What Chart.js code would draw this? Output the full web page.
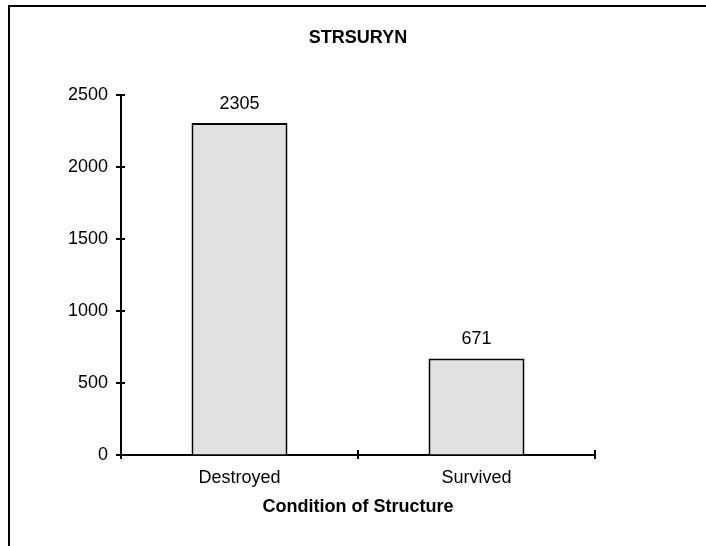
<!DOCTYPE html>
<html>
<head>
<meta charset="utf-8">
<script src="https://cdn.jsdelivr.net/npm/chart.js@4/dist/chart.umd.min.js"></script>
<style>
  body { margin: 0; background: #fff; }
  #frame {
    position: absolute; left: 8px; top: 5px; width: 800px; height: 700px;
    border-left: 2px solid #000; border-top: 2px solid #000;
  }
  #wrap { position: absolute; left: 0; top: 0; width: 706px; height: 546px; }
</style>
</head>
<body>
<div id="frame"></div>
<div id="wrap"><canvas id="chart" width="706" height="546"></canvas></div>
<script>
// chart data
const categories = ["Destroyed", "Survived"];
const counts = [2305, 671];
const yTicks = [0, 500, 1000, 1500, 2000, 2500];
const chartTitle = "STRSURYN";
const xTitle = "Condition of Structure";

const FONT = "'Liberation Sans', Arial, sans-serif";

// title centred over the plot area
const plotTitle = {
  id: "plotTitle",
  afterDraw(chart) {
    const ctx = chart.ctx;
    const area = chart.chartArea;
    ctx.save();
    ctx.font = "bold 18px " + FONT;
    ctx.fillStyle = "#000";
    ctx.textAlign = "center";
    ctx.textBaseline = "middle";
    ctx.fillText(chartTitle, (area.left + area.right) / 2, area.top - 57);
    ctx.restore();
  }
};

// small tick marks that cross the axis lines
const crossTicks = {
  id: "crossTicks",
  afterDraw(chart) {
    const ctx = chart.ctx;
    const x = chart.scales.x;
    const y = chart.scales.y;
    ctx.save();
    ctx.strokeStyle = "#000";
    ctx.lineWidth = 2;
    ctx.beginPath();
    yTicks.forEach(function (v) {
      let py = y.getPixelForValue(v);
      ctx.moveTo(x.left - 5, py);
      ctx.lineTo(x.left + 4, py);
    });
    for (let i = 0; i <= categories.length; i++) {
      let px = x.getPixelForValue(i - 0.5);
      ctx.moveTo(px, y.bottom - 5);
      ctx.lineTo(px, y.bottom + 4);
    }
    ctx.stroke();
    ctx.restore();
  }
};

// value labels above each bar
const barValues = {
  id: "barValues",
  afterDatasetsDraw(chart) {
    const ctx = chart.ctx;
    const meta = chart.getDatasetMeta(0);
    ctx.save();
    ctx.font = "18px " + FONT;
    ctx.fillStyle = "#000";
    ctx.textAlign = "center";
    ctx.textBaseline = "middle";
    meta.data.forEach(function (bar, i) {
      ctx.fillText(String(counts[i]), bar.x, bar.y - 19);
    });
    ctx.restore();
  }
};

new Chart(document.getElementById("chart"), {
  type: "bar",
  data: {
    labels: categories,
    datasets: [{
      data: counts,
      backgroundColor: "#e1e1e1",
      borderColor: "#000",
      borderWidth: 2,
      barPercentage: 0.405,
      categoryPercentage: 1
    }]
  },
  options: {
    responsive: false,
    animation: false,
    layout: { padding: { left: 0, right: 111, top: 95, bottom: 0 } },
    plugins: {
      legend: { display: false },
      tooltip: { enabled: false },
      title: { display: false }
    },
    scales: {
      x: {
        grid: { display: true, drawOnChartArea: false, drawTicks: false, tickLength: 0 },
        border: { display: true, color: "#000", width: 2 },
        ticks: { color: "#000", padding: 12, font: { family: FONT, size: 18 } },
        title: {
          display: true,
          text: xTitle,
          color: "#000",
          font: { family: FONT, size: 18, weight: "bold" },
          padding: { top: 0, bottom: 28 }
        },
        afterFit: function (scale) { scale.height = 91; }
      },
      y: {
        min: 0,
        max: 2500,
        grid: { display: true, drawOnChartArea: false, drawTicks: false, tickLength: 0 },
        border: { display: true, color: "#000", width: 2 },
        ticks: {
          stepSize: 500,
          color: "#000",
          padding: 13,
          font: { family: FONT, size: 18 },
          callback: function (value) { return String(value); }
        },
        afterFit: function (scale) { scale.width = 121; }
      }
    }
  },
  plugins: [plotTitle, crossTicks, barValues]
});
</script>
</body>
</html>
